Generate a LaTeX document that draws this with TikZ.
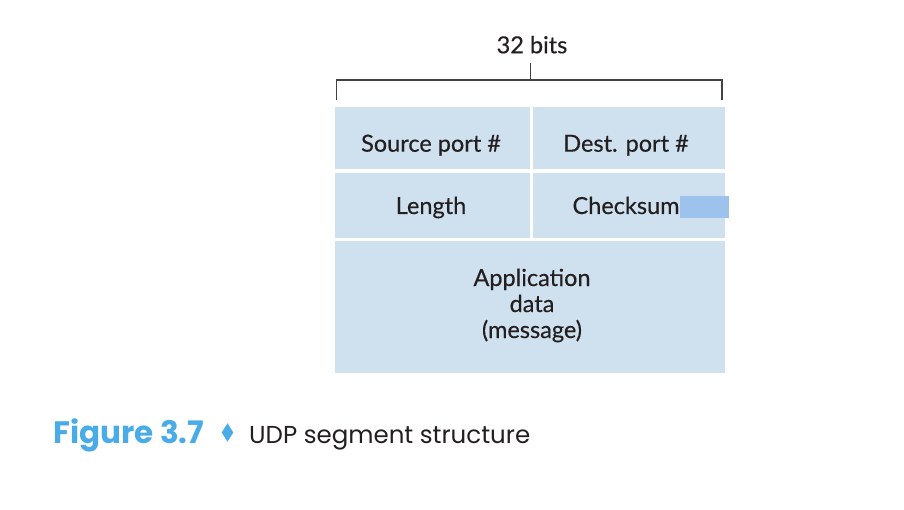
\documentclass[tikz,border=0pt]{standalone}
\usepackage{fontspec}
\setmainfont{Lato}[UprightFeatures={FakeBold=0.35}]
\newfontfamily\capfont{Poppins}
\definecolor{cellfill}{HTML}{CFE1EE}
\definecolor{inkdark}{HTML}{231F20}
\definecolor{figblue}{HTML}{4AACE6}
\definecolor{selblue}{HTML}{9DC2EC}
\begin{document}
\begin{tikzpicture}[x=1pt,y=-1pt,
  cell/.style={fill=cellfill, draw=none, inner sep=0pt, outer sep=0pt, anchor=north west},
  field/.style={text=inkdark, inner sep=0pt, anchor=base, align=center,
    font=\fontsize{23.5}{26}\selectfont},
  bracket/.style={draw=inkdark!85, line width=1.1pt}]
  \useasboundingbox (0,0) rectangle (904,510);
  % header and payload cells
  \node[cell, minimum width=195pt, minimum height=62pt] (src) at (335,107.5) {};
  \node[cell, minimum width=192pt, minimum height=62pt] (dst) at (533,107.5) {};
  \node[cell, minimum width=195pt, minimum height=65pt] (len) at (335,172.7) {};
  \node[cell, minimum width=192pt, minimum height=65pt] (chk) at (533,172.7) {};
  \node[cell, minimum width=390pt, minimum height=132.6pt] (data) at (335,240.7) {};
  % selection mark behind the checksum label
  \fill[selblue] (679.5,196) rectangle (728.5,218.3);
  % field labels (multi-line label sits on the baseline of its last line)
  \node[field] (srclabel) at (431,151.7) {Source port \#};
  \node[field] (dstlabel) at (626,151.7) {Dest. port \#};
  \node[field] (lenlabel) at (431,214) {Length};
  \node[field] (chklabel) at (626,214) {Checksum};
  \node[field] (datalabel) at (532,338) {Application\\data\\(message)};
  % 32-bit width bracket
  \coordinate (bl) at (336.5,100);
  \coordinate (tl) at (336.5,80);
  \coordinate (tr) at (722,80);
  \coordinate (br) at (722,100);
  \coordinate (mid) at (530.7,80);
  \coordinate (midtop) at (530.7,63);
  \draw[bracket] (bl) -- (tl) -- (tr) -- (br);
  \draw[bracket] (mid) -- (midtop);
  \node[field] (bits) at (532,53.3) {32 bits};
  % caption
  \node[anchor=base west, inner sep=0pt, text=figblue, font=\capfont\bfseries\fontsize{31}{36}\selectfont] (figno) at (53,443) {Figure 3.7};
  \fill[figblue] (227.5,423.3) -- (233.3,432.5) -- (227.5,441.7) -- (221.7,432.5) -- cycle;
  \node[anchor=base west, inner sep=0pt, text=inkdark, font=\capfont\fontsize{24.5}{29}\selectfont] (captxt) at (249,443) {UDP segment structure};
\end{tikzpicture}
\end{document}
